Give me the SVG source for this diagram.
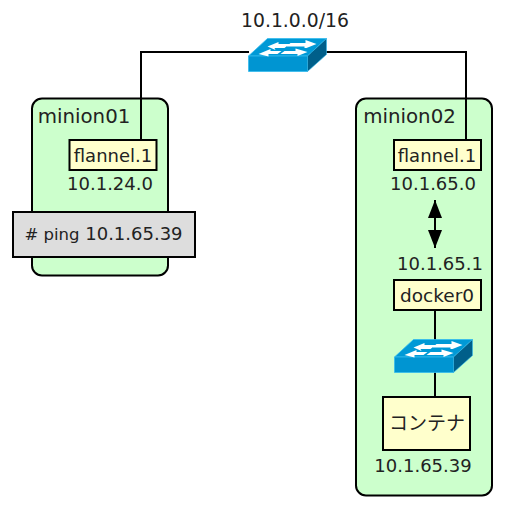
<svg xmlns="http://www.w3.org/2000/svg" width="507" height="514" viewBox="0 0 507 514">
<style>
text{font-family:"DejaVu Sans",sans-serif;font-size:18px;fill:#222;text-anchor:middle}
.box{fill:#ffffcc;stroke:#000;stroke-width:2}
.host{fill:#ccffcc;stroke:#000;stroke-width:2}
.ln{fill:none;stroke:#000;stroke-width:2}
</style>
<defs>
<marker id="ah" markerUnits="userSpaceOnUse" markerWidth="18" markerHeight="14" refX="18" refY="7" orient="auto-start-reverse" viewBox="0 0 18 14"><path d="M0 0L18 7L0 14Z" fill="#000"/></marker>
<g id="sw">
<path d="M0 17.500L19 0H78L59 17.500Z" fill="#0099d6" stroke="#33bbee" stroke-width=".8"/>
<path d="M0 17.500H59V33H0Z" fill="#0095d2" stroke="#33bbee" stroke-width=".8"/>
<path d="M59 17.500L78 0V16L59 33Z" fill="#005f8a" stroke="#33bbee" stroke-width=".6"/>
<path d="M19 8L30 3.500V5.500H41L36 9.500H26L27 11.500ZM42 4.500H57V1.500L68 5.500L58 9.500H56V8H38ZM10 15.500L22 10.500V12.500H33L29 15.500H20V18ZM36 12.500H47V10L59 13.500L49 17.500V15.500H32Z" fill="#fff"/>
</g>
</defs>
<g id="minion01"><rect class="host" x="32" y="98.500" width="136" height="177" rx="10"/><text x="84" y="123" style="font-size:19.800px">minion01</text></g>
<g id="minion02"><rect class="host" x="356" y="98.500" width="136" height="397" rx="10"/><text x="409.500" y="123" style="font-size:19.800px">minion02</text></g>
<g id="connectors">
<path class="ln" d="M141 140V52H249"/>
<path class="ln" d="M466 140V52H307"/>
<path class="ln" d="M435 310V340"/>
<path class="ln" d="M435 372V397"/>
<path class="ln" marker-start="url(#ah)" marker-end="url(#ah)" d="M435 200V248"/>
</g>
<g id="switch-top"><use href="#sw" x="248.500" y="38.500"/><text x="295" y="27" style="font-size:18.800px">10.1.0.0/16</text></g>
<g id="flannel1a"><rect class="box" x="69.500" y="140" width="87" height="30"/><text x="113" y="162">flannel.1</text><text x="110" y="190">10.1.24.0</text></g>
<g id="flannel1b"><rect class="box" x="394" y="140" width="87" height="30"/><text x="437" y="162">flannel.1</text><text x="433" y="190">10.1.65.0</text></g>
<g id="ping"><rect x="13" y="212" width="182" height="45" fill="#dddddd" stroke="#000" stroke-width="2"/><text x="103.500" y="240"><tspan style="font-size:16.500px"># ping</tspan> 10.1.65.39</text></g>
<g id="docker0"><text x="440" y="270">10.1.65.1</text><rect class="box" x="394" y="280" width="87" height="30"/><text x="437" y="302" style="font-size:18.500px">docker0</text></g>
<g id="switch-inner"><use href="#sw" x="394.500" y="339.500"/></g>
<g id="container"><rect class="box" x="383" y="397" width="87" height="53"/><text x="427" y="430" style="font-size:19px;font-family:'DejaVu Sans','Noto Sans CJK JP',sans-serif">コンテナ</text><text x="423" y="472">10.1.65.39</text></g>
</svg>
